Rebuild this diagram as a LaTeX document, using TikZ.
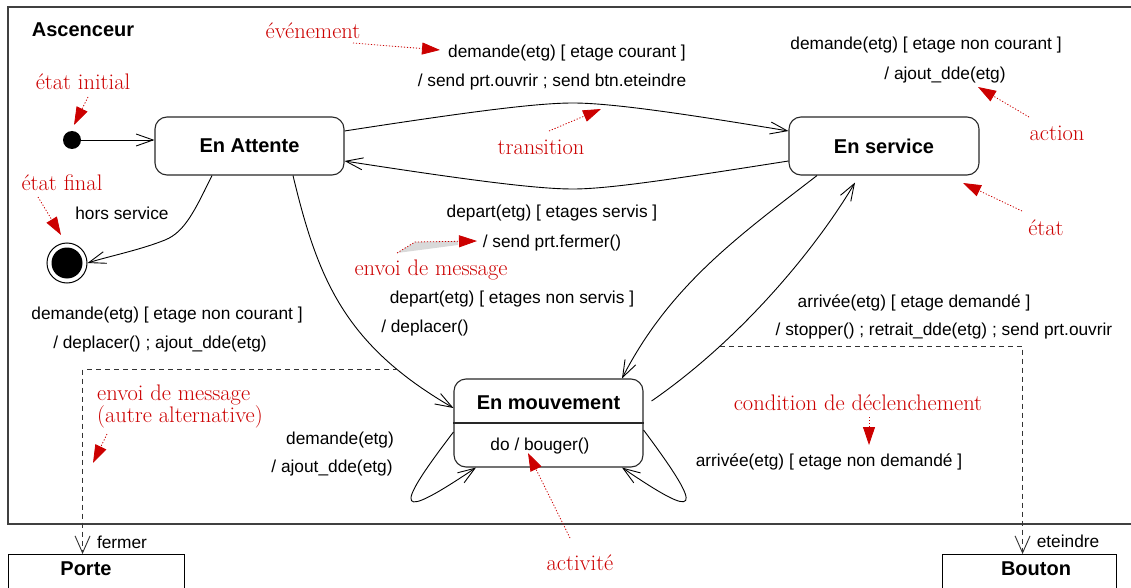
\documentclass[tikz,border=0pt]{standalone}
\usepackage{fontspec}
\setsansfont{Liberation Sans}
\usetikzlibrary{arrows.meta,calc}
\definecolor{notered}{RGB}{204,0,0}
\definecolor{linegray}{RGB}{40,40,40}

\begin{document}
\begin{tikzpicture}[x=1pt,y=-1pt,
  txt/.style={font=\sffamily\fontsize{17.3pt}{20pt}\selectfont, inner sep=0pt},
  bold/.style={font=\sffamily\bfseries\fontsize{20pt}{24pt}\selectfont, inner sep=0pt},
  statebox/.style={draw=linegray, line width=1.1pt, rounded corners=12pt, inner sep=0pt},
  classbox/.style={draw=black, line width=1.1pt, inner sep=0pt, anchor=north west, minimum height=60pt},
  note/.style={text=notered, font=\rmfamily\fontsize{22.5pt}{22pt}\selectfont, inner sep=0pt},
  trans/.style={draw=black, line width=0.9pt, -{Straight Barb[length=17pt,width=12pt]}},
  depend/.style={draw=black!80, line width=0.9pt, dash pattern=on 5pt off 4pt, -{Straight Barb[length=17pt,width=15pt]}},
  pointer/.style={draw=notered, line width=0.8pt, dash pattern=on 1.2pt off 1.8pt, -{Triangle[length=18pt,width=12pt]}},
]
\useasboundingbox (0,0) rectangle (1131,588);
\fill[white] (0,0) rectangle (1131,588);
\clip (0,0) rectangle (1131,588);

% frame of the Ascenceur class
\draw[line width=1.3pt, black!75] (8,7) rectangle (1145,524);
\node[bold] (title) at (83,30) {Ascenceur};

% states
\node[statebox, bold, minimum width=189pt, minimum height=58pt] (attente) at (249.5,146) {En Attente};
\node[statebox, bold, minimum width=190pt, minimum height=58pt] (service) at (884,146) {En service};
\node[statebox, minimum width=189pt, minimum height=88pt] (mouv) at (548.5,423) {};
\draw[linegray, line width=1.1pt] (mouv.west) -- (mouv.east);
\node[bold] (mouvtitle) at (548.5,403) {En mouvement};
\node[txt] (mouvdo) at (540,446) {do / bouger()};

\node[circle, fill=black, minimum size=18pt, inner sep=0pt] (init) at (72,140) {};
\node[circle, draw=black, line width=1pt, minimum size=40pt, inner sep=0pt] (final) at (67,263) {};
\fill (final.center) circle[radius=15.5pt];

% collaborating classes
\node[classbox, minimum width=176pt] (porte) at (8,554) {};
\node[bold] (portelbl) at (86,569) {Porte};
\node[classbox, minimum width=174pt] (bouton) at (942,554) {};
\node[bold] (boutonlbl) at (1036,569) {Bouton};

% transitions
\draw[trans] (init) -- (init -| attente.west);
\draw[trans] ([yshift=15pt]attente.east) .. controls (480,110) and (540,103) .. (573,103)
  .. controls (610,103) and (680,113) .. ([yshift=15pt]service.west);
\draw[trans] ([yshift=-15pt]service.west) .. controls (680,178) and (610,189) .. (573,189)
  .. controls (540,189) and (480,182) .. ([yshift=-15pt]attente.east);
\draw[trans] ([xshift=-37.5pt]attente.south) .. controls (195,210) and (185,232) .. (165,240)
  .. controls (140,250) and (110,256) .. (final.east);
\draw[trans] ([xshift=43.5pt]attente.south) .. controls (318,280) and (345,345) .. ([yshift=15pt]mouv.west)
  coordinate[pos=0.8] (portemsg);
\draw[trans] ([xshift=-67pt]service.south) .. controls (740,235) and (670,285) .. ([xshift=73.5pt]mouv.north);
\draw[trans] ([xshift=8pt,yshift=22pt]mouv.east) .. controls (740,340) and (815,250) .. ([xshift=-29pt,yshift=-7pt]service.south)
  coordinate[pos=0.27] (boutonmsg);
\draw[trans] ([yshift=-9pt]mouv.west) .. controls (390,515) and (398,520) .. ([xshift=-72.5pt]mouv.south);
\draw[trans] ([yshift=-7pt]mouv.east) .. controls (707,515) and (699,520) .. ([xshift=73.5pt]mouv.south);

% messages sent to other objects
\draw[depend] (portemsg) -| ([xshift=-14pt]porte.north);
\draw[depend] (boutonmsg) -| ([xshift=-7pt]bouton.north);
\node[txt] (fermer) at (122,542) {fermer};
\node[txt] (eteindre) at (1068,541) {eteindre};

% transition labels
\node[txt] (hs) at (122,213) {hors service};
\node[txt] (t1a) at (567,53) {demande(etg) [ etage courant ]};
\node[txt] (t1b) at (552,82) {/ send prt.ouvrir ; send btn.eteindre};
\node[txt] (t2a) at (926,45) {demande(etg) [ etage non courant ]};
\node[txt] (t2b) at (945,75) {/ ajout\_dde(etg)};
\node[txt] (t3a) at (552,213) {depart(etg) [ etages servis ]};
\node[txt] (t3b) at (552,243) {/ send prt.fermer()};
\node[txt] (t4a) at (512,299) {depart(etg) [ etages non servis ]};
\node[txt] (t4b) at (425,328) {/ deplacer()};
\node[txt] (t5a) at (167,315) {demande(etg) [ etage non courant ]};
\node[txt] (t5b) at (160,344) {/ deplacer() ; ajout\_dde(etg)};
\node[txt] (t6a) at (340,440) {demande(etg)};
\node[txt] (t6b) at (332,468) {/ ajout\_dde(etg)};
\node[txt] (t7a) at (914,303) {arrivée(etg) [ etage demandé ]};
\node[txt] (t7b) at (944,331) {/ stopper() ; retrait\_dde(etg) ; send prt.ouvrir};
\node[txt] (t8a) at (829,462) {arrivée(etg) [ etage non demandé ]};

% annotations
\node[note] (nevt) at (313,31) {événement};
\node[note] (ninit) at (83,82) {état initial};
\node[note] (nfinal) at (62,183) {état final};
\node[note] (ntrans) at (541,147) {transition};
\node[note] (nenvoi) at (431,270) {envoi de message};
\node[note] (naction) at (1057,133) {action};
\node[note] (netat) at (1046,228) {état};
\node[note, align=left, anchor=base west] (nautre) at (97,422) {envoi de message\\(autre alternative)};
\node[note] (ncond) at (858,403) {condition de déclenchement};
\node[note] (nactiv) at (580,563) {activité};

\coordinate (pevt) at (440,50);
\coordinate (pinit) at (74,125);
\coordinate (pfinal) at (61,235);
\coordinate (ptrans) at (601,109);
\coordinate (penvoi) at (477,241);
\coordinate (paction) at (978,87);
\coordinate (petat) at (963,183);
\coordinate (pautre) at (93,463);
\coordinate (pcond) at (869,445);
\coordinate (pactiv) at (528,453);

\fill[black!15] (397,253) -- (415,242) -- (458,241) -- (458,245) -- cycle;
\draw[pointer] (353,43) -- (pevt);
\draw[pointer] (88,97) -- (pinit);
\draw[pointer] (38,197) -- (pfinal);
\draw[pointer] (549,131) -- (ptrans);
\draw[pointer] (397,253) -- (415,242) -- (penvoi);
\draw[pointer] (1029,117) -- (paction);
\draw[pointer] (1022,211) -- (petat);
\draw[pointer] (107,434) -- (pautre);
\draw[pointer] (869,417) -- (pcond);
\draw[pointer] (570,538) -- (pactiv);
\end{tikzpicture}
\end{document}
